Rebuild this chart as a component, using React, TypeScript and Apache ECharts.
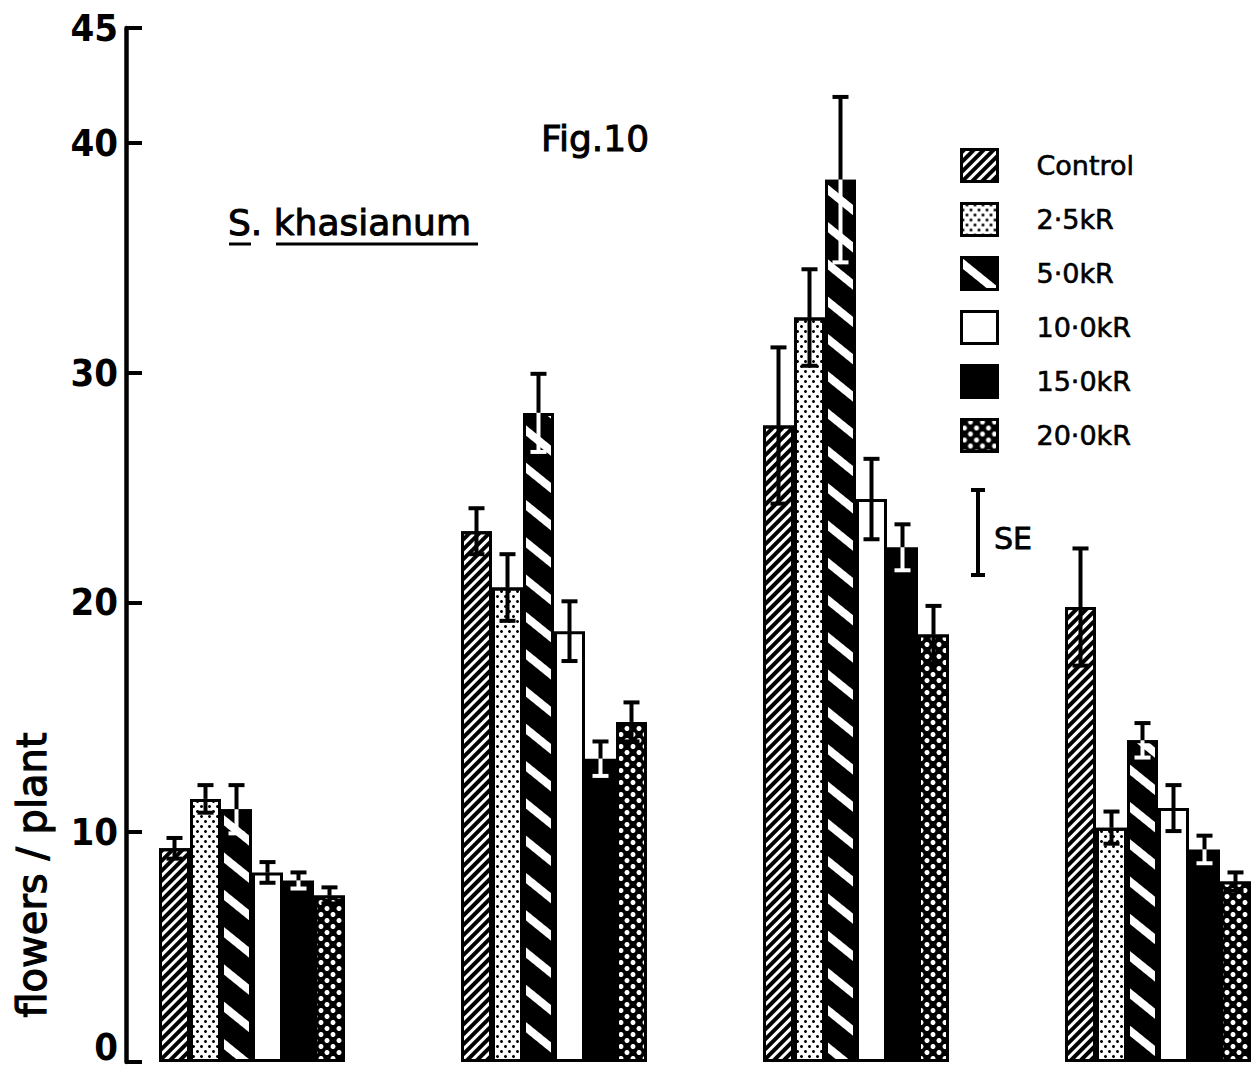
import React, { useEffect, useRef } from "react";
import * as echarts from "echarts";

// ---- data ----
const groups = ["A", "B", "C", "D"];
const treatments = ["Control", "2·5kR", "5·0kR", "10·0kR", "15·0kR", "20·0kR"];
const controlMean = [9.3, 23.1, 27.7, 19.8];
const controlSE = [0.45, 1.0, 3.4, 2.55];
const kR25Mean = [11.45, 20.65, 32.4, 10.2];
const kR25SE = [0.6, 1.45, 2.1, 0.7];
const kR50Mean = [11.0, 28.25, 38.4, 14.0];
const kR50SE = [1.05, 1.7, 3.6, 0.75];
const kR100Mean = [8.25, 18.75, 24.5, 11.05];
const kR100SE = [0.45, 1.3, 1.75, 1.0];
const kR150Mean = [7.9, 13.2, 22.4, 9.25];
const kR150SE = [0.35, 0.75, 1.0, 0.6];
const kR200Mean = [7.25, 14.8, 18.6, 7.85];
const kR200SE = [0.35, 0.85, 1.25, 0.4];
const yMin = 0;
const yMax = 45;
const yInterval = 10;

const means = [controlMean, kR25Mean, kR50Mean, kR100Mean, kR150Mean, kR200Mean];
const ses = [controlSE, kR25SE, kR50SE, kR100SE, kR150SE, kR200SE];

// ---- styles ----
const FONT = "DejaVu Sans";
const NUM_FONT = "'DejaVu Sans Condensed', 'DejaVu Sans', sans-serif";
const BAR_W = 31;
const fills = ["#fff", "#fff", "#000", "#fff", "#000", "#000"];
const decals: any[] = [
  { symbol: "rect", color: "#000", dashArrayX: [1, 0], dashArrayY: [4, 3], rotation: -Math.PI / 4 },
  { symbol: "circle", color: "#000", dashArrayX: [[3, 5], [0, 4, 3, 1]], dashArrayY: [3, 2], rotation: 0 },
  { symbol: "rect", color: "#fff", dashArrayX: [1, 0], dashArrayY: [8, 21], rotation: 0.68 },
  null,
  null,
  { symbol: "circle", color: "#fff", dashArrayX: [[6, 6], [0, 6, 6, 0]], dashArrayY: [5, 1], rotation: 0 },
];
const darkInside = [false, false, true, false, true, false];

function buildOption() {
  const barSeries = treatments.map((name, si) => ({
    type: "bar",
    name,
    data: means[si],
    barWidth: BAR_W,
    barGap: "0%",
    itemStyle: {
      color: fills[si],
      borderColor: "#000",
      borderWidth: 3,
      ...(decals[si] ? { decal: decals[si] } : {}),
    },
    silent: true,
    z: 2,
  }));

  const errSeries = treatments.map((name, si) => ({
    type: "custom",
    name: name + " SE",
    data: means[si].map((m, i) => [i, m, ses[si][i]]),
    encode: { x: 0, y: 1 },
    silent: true,
    z: 5,
    renderItem: (params: any, api: any) => {
      const g = api.value(0);
      const m = api.value(1);
      const se = api.value(2);
      const c = api.coord([g, m]);
      const t = api.coord([g, m + se]);
      const b = api.coord([g, m - se]);
      const x = c[0] + (si - 2.5) * BAR_W;
      const cap = 8;
      const low = darkInside[si] ? "#fff" : "#000";
      return {
        type: "group",
        children: [
          { type: "line", shape: { x1: x, y1: t[1], x2: x, y2: c[1] }, style: { stroke: "#000", lineWidth: 4 } },
          { type: "line", shape: { x1: x - cap, y1: t[1], x2: x + cap, y2: t[1] }, style: { stroke: "#000", lineWidth: 4 } },
          { type: "line", shape: { x1: x, y1: c[1], x2: x, y2: b[1] }, style: { stroke: low, lineWidth: 4 } },
          { type: "line", shape: { x1: x - cap, y1: b[1], x2: x + cap, y2: b[1] }, style: { stroke: low, lineWidth: 4 } },
        ],
      };
    },
  }));

  return {
    animation: false,
    backgroundColor: "#fff",
    grid: { left: 101, top: 28, bottom: 8, width: 1208, containLabel: false, outerBoundsMode: "none" },
    xAxis: {
      type: "category",
      data: groups,
      axisLine: { show: false },
      axisTick: { show: false },
      axisLabel: { show: false },
      splitLine: { show: false },
    },
    yAxis: {
      type: "value",
      min: yMin,
      max: yMax,
      interval: yInterval,
      offset: -25,
      axisLine: { show: true, lineStyle: { color: "#000", width: 4.5 } },
      axisTick: { show: true, inside: true, length: 16, lineStyle: { color: "#000", width: 4 } },
      axisLabel: {
        color: "#000",
        fontSize: 38,
        fontWeight: "bold",
        fontFamily: NUM_FONT,
        margin: 8,
        formatter: (v: number) => (v === 0 ? "{z|0}" : String(v)),
        rich: {
          z: {
            color: "#000",
            fontSize: 38,
            fontWeight: "bold",
            fontFamily: NUM_FONT,
            padding: [0, 0, 30, 0],
          },
        },
      },
      splitLine: { show: false },
    },
    legend: {
      data: treatments,
      orient: "vertical",
      left: 960,
      top: 148,
      icon: "rect",
      itemWidth: 36,
      itemHeight: 32,
      itemGap: 19,
      padding: 0,
      selectedMode: false,
      itemStyle: { borderColor: "#000", borderWidth: 3 },
      textStyle: {
        fontSize: 27,
        fontFamily: FONT,
        color: "#000",
        padding: [0, 0, 0, 34],
        textBorderColor: "#000",
        textBorderWidth: 0.6,
      },
    },
    graphic: [
      {
        type: "text",
        x: 595,
        y: 138,
        style: {
          text: "Fig.10", fontSize: 36, fontFamily: FONT, fill: "#000", stroke: "#000", lineWidth: 1,
          align: "center", verticalAlign: "middle",
        },
      },
      {
        type: "text",
        x: 228,
        y: 222,
        style: {
          text: "S. khasianum", fontSize: 36, fontFamily: FONT, fill: "#000", stroke: "#000", lineWidth: 1,
          align: "left", verticalAlign: "middle",
        },
      },
      { type: "line", shape: { x1: 229, y1: 244, x2: 251, y2: 244 }, style: { stroke: "#000", lineWidth: 3 } },
      { type: "line", shape: { x1: 276, y1: 244, x2: 478, y2: 244 }, style: { stroke: "#000", lineWidth: 3 } },
      {
        type: "text",
        x: 32,
        y: 875,
        rotation: Math.PI / 2,
        style: {
          text: "flowers / plant", fontSize: 40, fontFamily: FONT, fill: "#000", stroke: "#000", lineWidth: 1.2,
          align: "center", verticalAlign: "middle",
        },
      },
      { type: "line", shape: { x1: 978, y1: 490, x2: 978, y2: 575 }, style: { stroke: "#000", lineWidth: 4 } },
      { type: "line", shape: { x1: 971, y1: 490, x2: 985, y2: 490 }, style: { stroke: "#000", lineWidth: 4 } },
      { type: "line", shape: { x1: 971, y1: 575, x2: 985, y2: 575 }, style: { stroke: "#000", lineWidth: 4 } },
      {
        type: "text",
        x: 994,
        y: 538,
        style: {
          text: "SE", fontSize: 30, fontFamily: FONT, fill: "#000", stroke: "#000", lineWidth: 0.8,
          align: "left", verticalAlign: "middle",
        },
      },
    ],
    series: [...barSeries, ...errSeries],
  };
}

export default function App() {
  const ref = useRef<HTMLDivElement>(null);
  useEffect(() => {
    if (!ref.current) return;
    const chart = echarts.init(ref.current, null, { renderer: "svg" });
    chart.setOption(buildOption() as any);
    return () => chart.dispose();
  }, []);
  return (
    <div
      style={{
        position: "fixed",
        left: 0,
        top: 0,
        width: 1251,
        height: 1070,
        overflow: "hidden",
        background: "#fff",
      }}
    >
      <div ref={ref} style={{ width: 1320, height: 1070 }} />
    </div>
  );
}
